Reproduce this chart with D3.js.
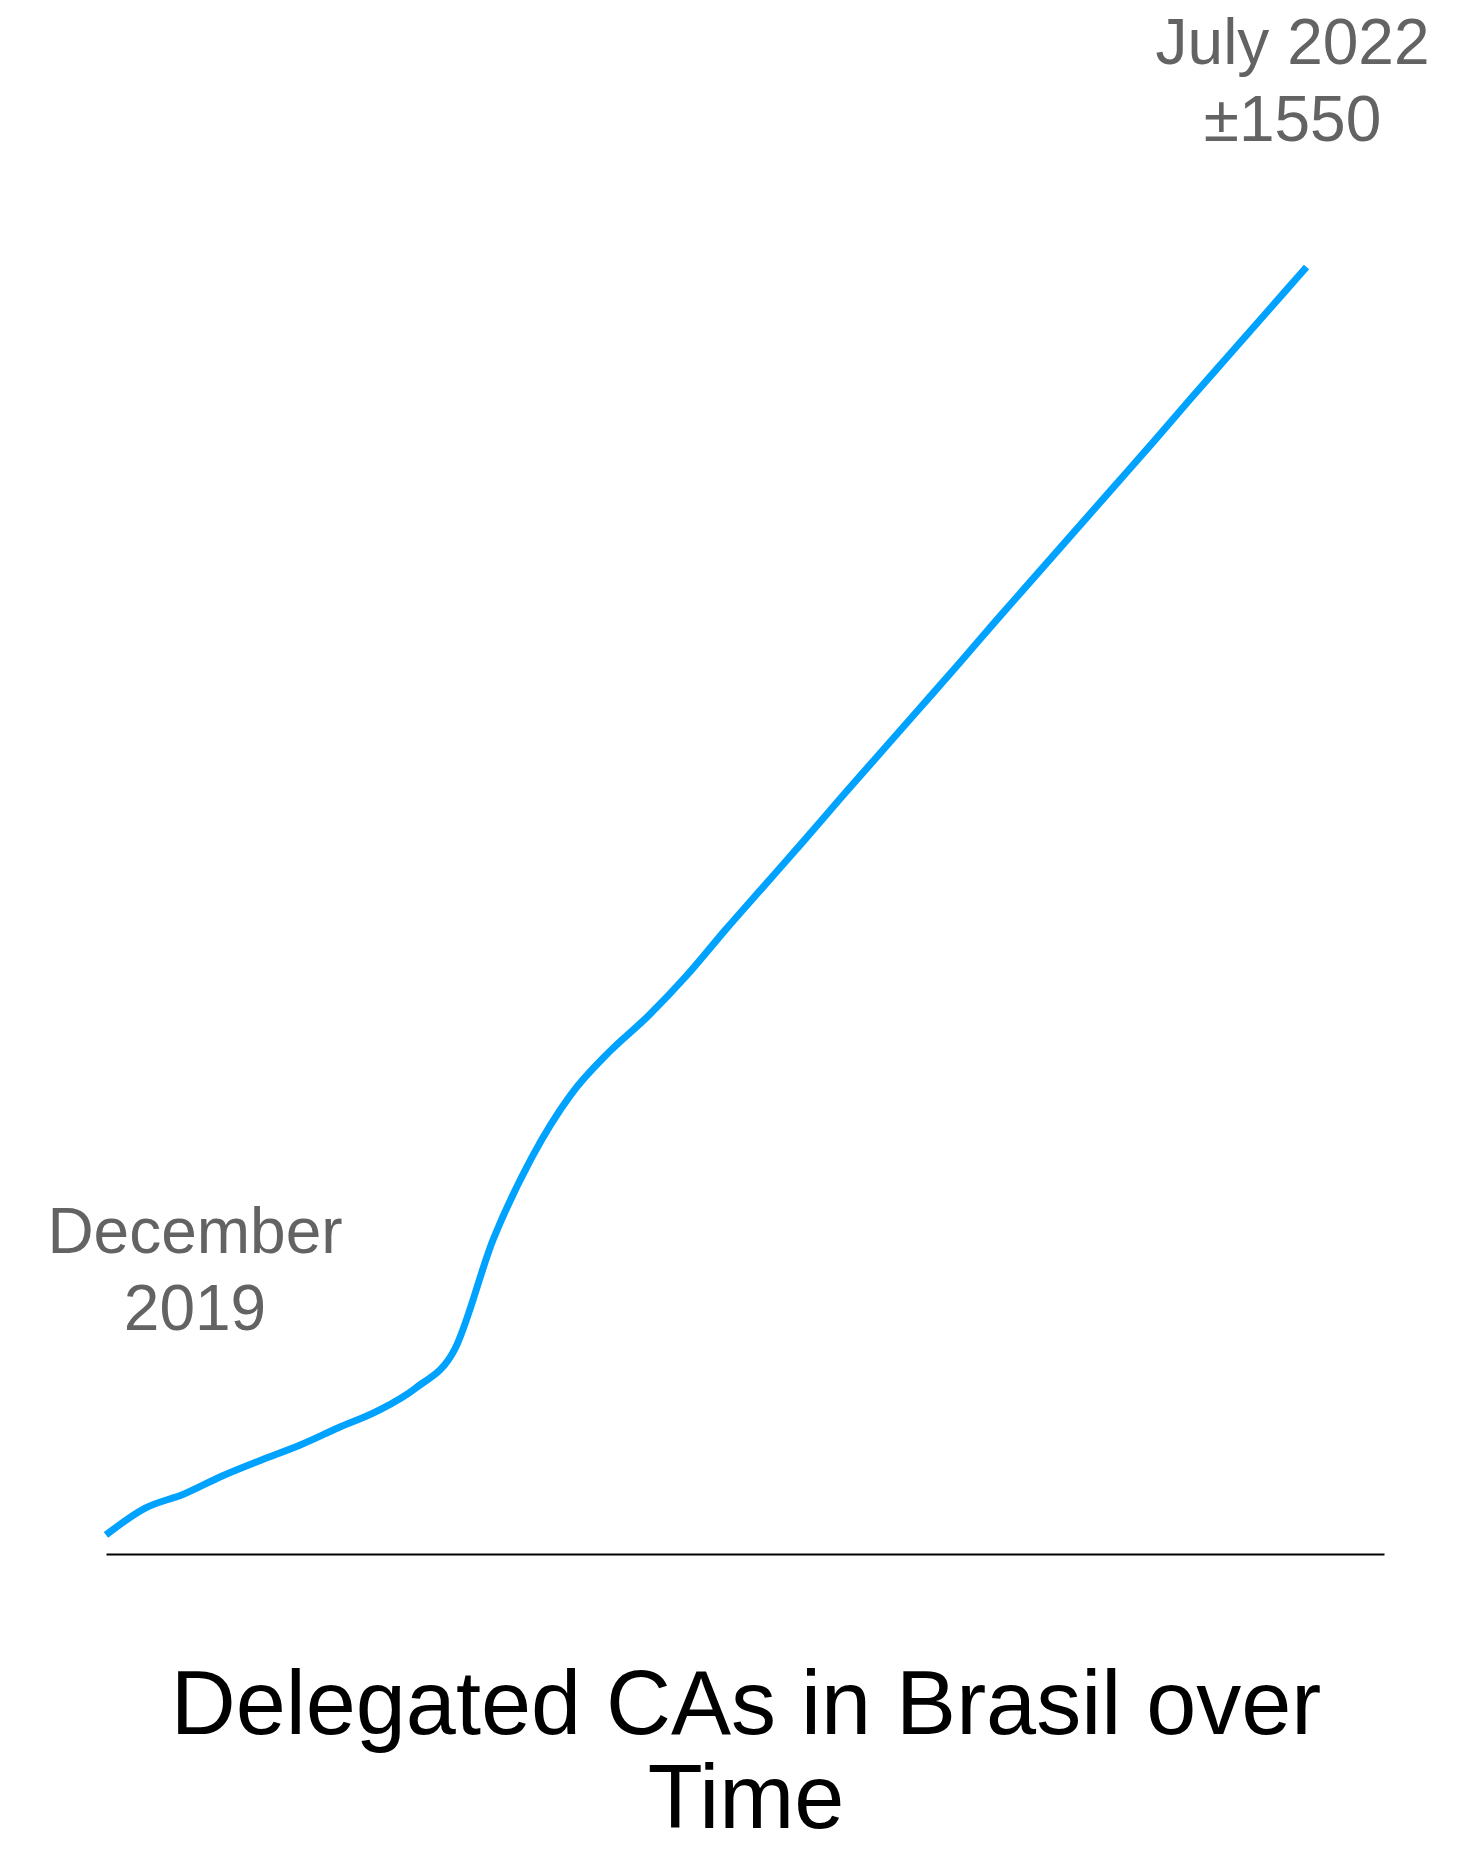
<!DOCTYPE html>
<html>
<head>
<meta charset="utf-8">
<script src="https://cdn.jsdelivr.net/npm/d3@7"></script>
<style>
  html, body { margin: 0; padding: 0; background: #fff; }
  svg { display: block; }
</style>
</head>
<body>
<svg id="chart"></svg>
<script>
// Monthly counts of delegated CAs, Dec 2019 .. Jul 2022
const months = [
  "2019-12", "2020-01", "2020-02", "2020-03", "2020-04", "2020-05", "2020-06", "2020-07",
  "2020-08", "2020-09", "2020-10", "2020-11", "2020-12", "2021-01", "2021-02", "2021-03",
  "2021-04", "2021-05", "2021-06", "2021-07", "2021-08", "2021-09", "2021-10", "2021-11",
  "2021-12", "2022-01", "2022-02", "2022-03", "2022-04", "2022-05", "2022-06", "2022-07"
];
const values = [
  23, 55, 72, 94, 113, 131, 152, 172,
  200, 246, 379, 478, 553, 605, 648, 697,
  752, 805, 858, 912, 965, 1018, 1071, 1125,
  1178, 1231, 1284, 1337, 1391, 1444, 1497, 1550
];
const axisMonths = 33; // baseline runs a little past the last point
const startLabel = ["December", "2019"];
const endLabel = ["July 2022", "±1550"];
const titleLines = ["Delegated CAs in Brasil over", "Time"];

const W = 1480, H = 1850;
const margin = { top: 267, right: 96, bottom: 296, left: 106 };
const data = months.map((m, i) => ({ month: m, idx: i, value: values[i] }));

const svg = d3.select("#chart").attr("width", W).attr("height", H);

// months as evenly spaced steps
const x = d3.scaleLinear()
  .domain([0, axisMonths])
  .range([margin.left, W - margin.right]);

const y = d3.scaleLinear()
  .domain([0, d3.max(values)])
  .range([H - margin.bottom, margin.top]);

// baseline (x axis without ticks)
svg.append("g")
  .attr("transform", `translate(0,${y(0)})`)
  .call(d3.axisBottom(x).tickValues([]).tickSizeOuter(0))
  .call(g => g.select(".domain").attr("stroke", "#000").attr("stroke-width", 2));

const line = d3.line()
  .x(d => x(d.idx))
  .y(d => y(d.value))
  .curve(d3.curveMonotoneX);

svg.append("path")
  .datum(data)
  .attr("fill", "none")
  .attr("stroke", "#00a2ff")
  .attr("stroke-width", 7)
  .attr("d", line);

const font = "'Liberation Sans', Arial, Helvetica, sans-serif";
const last = data[data.length - 1];

// start annotation
svg.append("text")
  .attr("y", 1253)
  .attr("text-anchor", "middle")
  .style("font-family", font)
  .style("font-size", "64px")
  .style("fill", "#636363")
  .selectAll("tspan")
  .data(startLabel)
  .join("tspan")
  .attr("x", 195)
  .attr("dy", (d, i) => i === 0 ? 0 : 77)
  .text(d => d);

// end annotation
svg.append("text")
  .attr("y", 64)
  .attr("text-anchor", "middle")
  .style("font-family", font)
  .style("font-size", "64px")
  .style("fill", "#636363")
  .selectAll("tspan")
  .data(endLabel)
  .join("tspan")
  .attr("x", x(last.idx) - 14)
  .attr("dy", (d, i) => i === 0 ? 0 : 77)
  .text(d => d);

// title
svg.append("text")
  .attr("y", 1734)
  .attr("text-anchor", "middle")
  .style("font-family", font)
  .style("font-size", "90px")
  .style("fill", "#000")
  .selectAll("tspan")
  .data(titleLines)
  .join("tspan")
  .attr("x", 746)
  .attr("dy", (d, i) => i === 0 ? 0 : 94)
  .text(d => d);
</script>
</body>
</html>
